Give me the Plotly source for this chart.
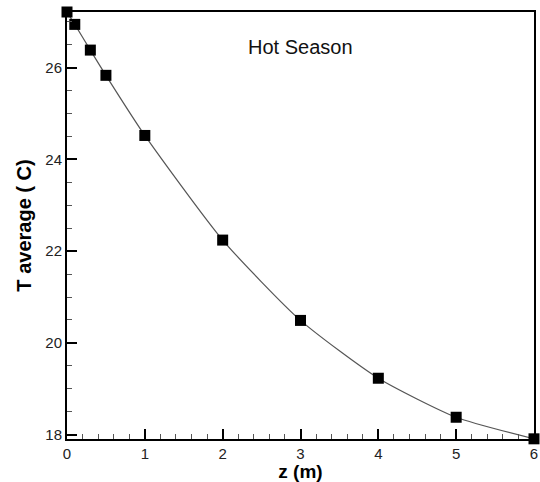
import plotly.graph_objects as go

z_m = [0, 0.1, 0.3, 0.5, 1, 2, 3, 4, 5, 6]
t_avg = [27.21, 26.94, 26.38, 25.83, 24.52, 22.24, 20.49, 19.23, 18.38, 17.91]
x_ticks = [0, 1, 2, 3, 4, 5, 6]
y_ticks = [18, 20, 22, 24, 26]
title_text = "Hot Season"

FONT = "Liberation Sans, Arial, sans-serif"

fig = go.Figure()
fig.add_trace(go.Scatter(
    x=z_m, y=t_avg, mode="lines+markers",
    line=dict(color="#555555", width=1.2, shape="spline", smoothing=0.6),
    marker=dict(symbol="square", size=11, color="black"),
    cliponaxis=False, showlegend=False,
))

fig.add_annotation(text=title_text, x=3.0, y=26.44, xref="x", yref="y",
                   showarrow=False, font=dict(family=FONT, size=20, color="#111"))

fig.update_xaxes(
    range=[0, 6], tickvals=x_ticks, ticks="inside", ticklen=10, tickwidth=2,
    tickcolor="black", showline=True, linecolor="black", linewidth=2, mirror=True,
    showgrid=False, zeroline=False, automargin=False,
    minor=dict(dtick=0.2, ticks="inside", ticklen=5, tickwidth=1, tickcolor="#555", showgrid=False),
    tickfont=dict(family=FONT, size=15, color="#222"),
    title=dict(text="<b>z (m)</b>", font=dict(family=FONT, size=19, color="black"), standoff=3),
)
fig.update_yaxes(
    range=[17.906, 27.21], tickvals=y_ticks, ticks="inside", ticklen=10, tickwidth=2,
    tickcolor="black", showline=True, linecolor="black", linewidth=2, mirror=True,
    showgrid=False, zeroline=False, automargin=False,
    minor=dict(dtick=0.5, ticks="inside", ticklen=5, tickwidth=1, tickcolor="#555", showgrid=False),
    tickfont=dict(family=FONT, size=15, color="#222"),
    title=dict(text="<b>T average ( C)</b>", font=dict(family=FONT, size=20, color="black"), standoff=8),
)

fig.update_layout(
    width=540, height=482,
    margin=dict(l=67, r=6, t=12, b=43),
    paper_bgcolor="white", plot_bgcolor="white",
    font=dict(family=FONT),
)

fig.write_html("out.html", config={"displayModeBar": False},
               post_script="document.body.style.margin='0';document.body.style.overflow='hidden';")
